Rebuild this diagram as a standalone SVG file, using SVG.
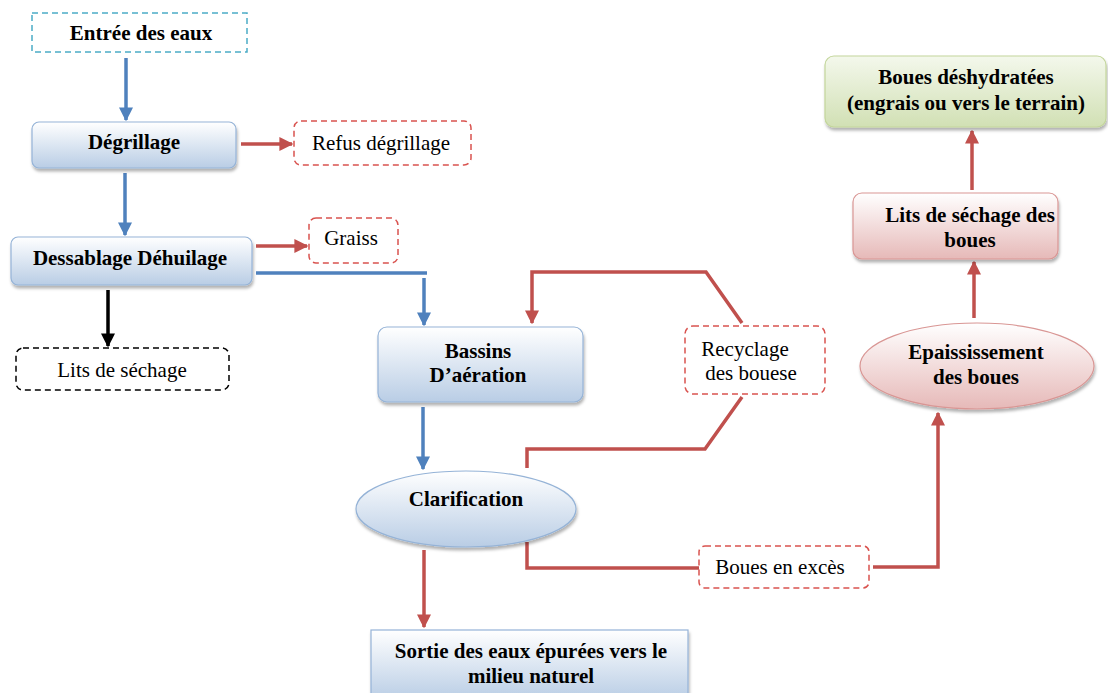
<svg xmlns="http://www.w3.org/2000/svg" width="1108" height="693" viewBox="0 0 1108 693">
<defs>
<linearGradient id="gb" x1="0" y1="0" x2="0" y2="1"><stop offset="0" stop-color="#ffffff"/><stop offset="1" stop-color="#b9cde5"/></linearGradient>
<linearGradient id="gr" x1="0" y1="0" x2="0" y2="1"><stop offset="0" stop-color="#ffffff"/><stop offset="1" stop-color="#e6b9b8"/></linearGradient>
<linearGradient id="gg" x1="0" y1="0" x2="0" y2="1"><stop offset="0" stop-color="#f4f8ec"/><stop offset="1" stop-color="#d1e0b4"/></linearGradient>
<filter id="sh" x="-10%" y="-10%" width="120%" height="130%"><feDropShadow dx="1" dy="3" stdDeviation="1.5" flood-color="#000" flood-opacity="0.3"/></filter>
<marker id="ab" viewBox="0 0 10 10" refX="9" refY="5" markerWidth="4" markerHeight="4" orient="auto" markerUnits="strokeWidth"><path d="M0,0 L10,5 L0,10 z" fill="#4f81bd"/></marker>
<marker id="ar" viewBox="0 0 10 10" refX="9" refY="5" markerWidth="4" markerHeight="4" orient="auto" markerUnits="strokeWidth"><path d="M0,0 L10,5 L0,10 z" fill="#c0504d"/></marker>
<marker id="ak" viewBox="0 0 10 10" refX="9" refY="5" markerWidth="4" markerHeight="4" orient="auto" markerUnits="strokeWidth"><path d="M0,0 L10,5 L0,10 z" fill="#000"/></marker>
</defs>
<style>
.t{font-family:"Liberation Serif","Times New Roman",Times,"DejaVu Serif",serif;font-size:21px;text-anchor:middle;fill:#000}
.b{font-weight:bold}
.nb{fill:url(#gb);stroke:#95b3d7;stroke-width:1.2;filter:url(#sh)}
.nr{fill:url(#gr);stroke:#d99694;stroke-width:1.2;filter:url(#sh)}
.ng{fill:url(#gg);stroke:#c3d69b;stroke-width:1.2;filter:url(#sh)}
.dr{fill:#fff;stroke:#d9534f;stroke-width:1.5;stroke-dasharray:6 4}
.dc{fill:#fff;stroke:#4bacc6;stroke-width:1.5;stroke-dasharray:6 4}
.dk{fill:#fff;stroke:#000;stroke-width:1.5;stroke-dasharray:6 4}
.lb{fill:none;stroke:#4f81bd;stroke-width:3.5}
.lr{fill:none;stroke:#c0504d;stroke-width:3.5}
.lk{fill:none;stroke:#000;stroke-width:3.5}
</style>
<rect width="1108" height="693" fill="#fff"/>
<g id="connectors">
<line class="lb" x1="126" y1="58" x2="126" y2="120" marker-end="url(#ab)"/>
<line class="lb" x1="125" y1="173" x2="125" y2="235" marker-end="url(#ab)"/>
<line class="lr" x1="241" y1="144" x2="292" y2="144" marker-end="url(#ar)"/>
<line class="lr" x1="256" y1="246" x2="307" y2="246" marker-end="url(#ar)"/>
<polyline class="lb" points="256,273 427,273"/>
<line class="lb" x1="424" y1="278" x2="424" y2="325" marker-end="url(#ab)"/>
<line class="lk" x1="108" y1="290" x2="108" y2="346" marker-end="url(#ak)"/>
<line class="lb" x1="423" y1="407" x2="423" y2="469" marker-end="url(#ab)"/>
<line class="lr" x1="424" y1="550" x2="424" y2="627" marker-end="url(#ar)"/>
<polyline class="lr" points="527,468 527,449 705,449 742,397"/>
<polyline class="lr" points="742,323 706,272 532,272 532,323" marker-end="url(#ar)"/>
<polyline class="lr" points="527,542 527,568 699,568"/>
<polyline class="lr" points="873,567 938,567 938,413" marker-end="url(#ar)"/>
<line class="lr" x1="974" y1="318" x2="974" y2="262" marker-end="url(#ar)"/>
<line class="lr" x1="972" y1="190" x2="972" y2="131" marker-end="url(#ar)"/>
</g>
<g id="n-entree"><rect class="dc" x="32" y="13" width="215" height="39"/><text class="t b" x="141" y="40">Entrée des eaux</text></g>
<g id="n-degrillage"><rect class="nb" x="32" y="122" width="204" height="46" rx="7"/><text class="t b" x="134" y="149">Dégrillage</text></g>
<g id="n-refus"><rect class="dr" x="294" y="121" width="177" height="44" rx="7"/><text class="t" x="381" y="150">Refus dégrillage</text></g>
<g id="n-dessablage"><rect class="nb" x="11" y="237" width="241" height="48" rx="7"/><text class="t b" x="130" y="265">Dessablage Déhuilage</text></g>
<g id="n-graiss"><rect class="dr" x="309" y="218" width="89" height="45" rx="7"/><text class="t" x="351" y="245">Graiss</text></g>
<g id="n-lits"><rect class="dk" x="16" y="348" width="213" height="42" rx="7"/><text class="t" x="122" y="377">Lits de séchage</text></g>
<g id="n-bassins"><rect class="nb" x="378" y="327" width="205" height="75" rx="9"/><text class="t b" x="478" y="358">Bassins</text><text class="t b" x="478" y="382">D’aération</text></g>
<g id="n-recyclage"><rect class="dr" x="685" y="326" width="140" height="68" rx="8"/><text class="t" x="745" y="356">Recyclage</text><text class="t" x="751" y="380">des bouese</text></g>
<g id="n-clarification"><ellipse class="nb" cx="466" cy="509" rx="110" ry="38"/><text class="t b" x="466" y="506">Clarification</text></g>
<g id="n-sortie"><rect class="nb" x="371" y="630" width="317" height="70"/><text class="t b" x="531" y="658">Sortie des eaux épurées vers le</text><text class="t b" x="531" y="683">milieu naturel</text></g>
<g id="n-exces"><rect class="dr" x="699" y="546" width="170" height="42" rx="6"/><text class="t" x="780" y="574">Boues en excès</text></g>
<g id="n-epaississement"><ellipse class="nr" cx="977" cy="366" rx="117" ry="43"/><text class="t b" x="976" y="359">Epaississement</text><text class="t b" x="976" y="384">des boues</text></g>
<g id="n-litsboues"><rect class="nr" x="853" y="193" width="205" height="66" rx="9"/><text class="t b" x="970" y="222">Lits de séchage des</text><text class="t b" x="970" y="247">boues</text></g>
<g id="n-deshydratees"><rect class="ng" x="825" y="56" width="281" height="71" rx="9"/><text class="t b" x="966" y="84">Boues déshydratées</text><text class="t b" x="966" y="110">(engrais ou vers le terrain)</text></g>
</svg>
